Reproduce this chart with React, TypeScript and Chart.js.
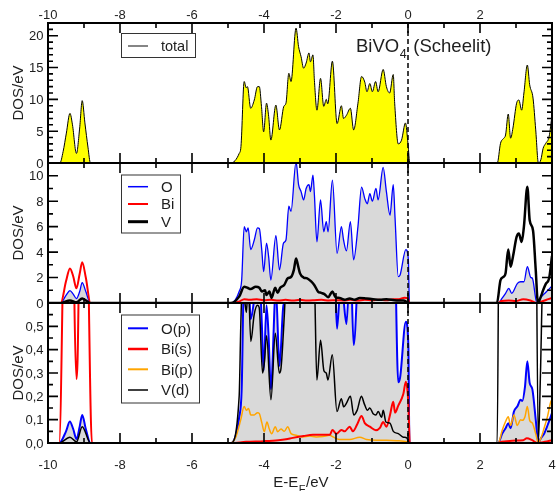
import React, { useEffect, useRef } from "react";
import { Chart, registerables } from "chart.js";

Chart.register(...registerables);

// ---------------- axis ticks ----------------
const xMajorTicks = [-10, -8, -6, -4, -2, 0, 2, 4];
const xTopLabels = ["-10", "-8", "-6", "-4", "-2", "0", "2", ""];
const xBottomLabels = ["-10", "-8", "-6", "-4", "-2", "0", "2", "4"];

const totalYTicks = [0, 5, 10, 15, 20];
const totalYLabels = ["0", "5", "10", "15", "20"];
const atomYTicks = [0, 2, 4, 6, 8, 10];
const atomYLabels = ["0", "2", "4", "6", "8", "10"];
const orbitalYTicks = [0, 0.1, 0.2, 0.3, 0.4, 0.5];
const orbitalYLabels = ["0,0", "0,1", "0,2", "0,3", "0,4", "0,5"];

// ---------------- panel 1: total DOS ----------------
const totalE = [
  -10, -9.67, -9.58, -9.49, -9.39, -9.32, -9.21, -9.12, -9.05, -8.975, -8.89, -8.82,
  -4.92, -4.69, -4.64, -4.55, -4.49, -4.46, -4.37, -4.27, -4.18, -4.13, -4.07, -4.01,
  -3.93, -3.87, -3.81, -3.67, -3.57, -3.45, -3.39, -3.31, -3.25, -3.11, -3.04, -2.97,
  -2.9, -2.83, -2.75, -2.71, -2.64, -2.6, -2.53, -2.43, -2.34, -2.27, -2.23, -2.1,
  -1.97, -1.85, -1.79, -1.71, -1.6, -1.51, -1.39, -1.29, -1.2, -1.14, -1.06, -0.99,
  -0.9, -0.83, -0.69, -0.6, -0.51, -0.41, -0.37, -0.27, -0.18, -0.07, 0.0, 0.05,
  2.48, 2.57, 2.66, 2.71, 2.785, 2.85, 2.915, 3.017, 3.08, 3.157, 3.22, 3.315, 3.38,
  3.473, 3.548, 3.622, 3.69, 3.753, 3.828, 3.92, 4.0,
];
const totalDOS = [
  0, 0, 1.8, 4.7, 7.8, 6.0, 1.5, 5.5, 9.8, 6.3, 2.5, 0,
  0, 1.5, 2.6, 12.8, 11.8, 12.0, 8.6, 9.9, 12.0, 12.0, 8.9, 4.9,
  9.4, 7.3, 3.6, 9.1, 5.2, 8.9, 9.4, 14.1, 12.8, 21.2, 18.3, 16.7,
  14.9, 15.7, 17.3, 15.9, 17.0, 13.0, 8.3, 13.3, 8.9, 10.0, 9.3, 16.0,
  6.2, 9.0, 7.0, 7.5, 8.6, 5.2, 9.4, 13.6, 12.7, 11.2, 12.5, 11.2,
  12.8, 11.2, 14.7, 12.0, 11.0, 13.9, 9.4, 3.0, 3.6, 6.3, 3.0, 0,
  0, 3.1, 3.9, 4.4, 7.7, 3.9, 5.5, 9.4, 9.9, 8.3, 11.0, 15.4, 12.3,
  10.2, 5.2, 0, 0.5, 2.3, 3.1, 4.15, 7.5,
];

// ---------------- panel 2: atoms ----------------
const oE = [
  -10, -9.65, -9.5, -9.39, -9.3, -9.21, -9.12, -9.05, -8.95, -8.82,
  -4.92, -4.69, -4.62, -4.55, -4.49, -4.44, -4.37, -4.27, -4.18, -4.13, -4.06, -4.01,
  -3.93, -3.87, -3.81, -3.67, -3.57, -3.46, -3.39, -3.31, -3.25, -3.11, -3.04, -2.97,
  -2.9, -2.83, -2.75, -2.71, -2.64, -2.6, -2.53, -2.43, -2.34, -2.27, -2.22, -2.1,
  -1.97, -1.85, -1.79, -1.71, -1.6, -1.51, -1.39, -1.29, -1.2, -1.13, -1.06, -0.99,
  -0.89, -0.83, -0.69, -0.6, -0.5, -0.41, -0.36, -0.27, -0.22, -0.06, 0.01, 0.04,
  2.5, 2.62, 2.71, 2.8, 2.88, 3.04, 3.13, 3.22, 3.316, 3.41, 3.455, 3.58, 3.69, 3.83, 4.0,
];
const oDOS = [
  0, 0, 0.6, 0.97, 0.7, 0.35, 0.9, 1.6, 0.9, 0,
  0, 0.9, 1.8, 6.0, 5.6, 5.9, 4.2, 4.95, 5.9, 5.85, 4.1, 2.46,
  4.7, 3.6, 1.8, 5.3, 2.6, 4.7, 4.95, 7.6, 7.2, 11.1, 9.3, 8.75,
  8.1, 9.0, 9.3, 8.75, 10.05, 8.5, 4.8, 8.1, 5.6, 6.4, 5.6, 9.66,
  3.9, 6.0, 4.95, 4.1, 6.4, 3.4, 6.0, 9.1, 8.2, 7.8, 8.6, 8.0,
  9.0, 8.1, 10.66, 8.75, 6.9, 9.3, 6.7, 2.07, 2.2, 4.2, 3.4, 0,
  0, 0.4, 0.76, 1.15, 0.76, 1.54, 1.67, 1.67, 2.85, 2.0, 1.95, 0, 0.45, 0.85, 1.33,
];

const biE = [
  -10, -9.645, -9.5, -9.39, -9.3, -9.21, -9.12, -9.05, -8.95, -8.82,
  -4.92, -4.7, -4.55, -4.4, -4.2, -4.0, -3.8, -3.6, -3.4, -3.2,
  -3.0, -2.8, -2.6, -2.4, -2.2, -2.0, -1.8, -1.6, -1.4, -1.2,
  -1.0, -0.8, -0.6, -0.4, -0.25, -0.1, 0.0, 0.04,
  2.48, 2.6, 2.8, 3.0, 3.2, 3.4, 3.58, 3.7, 3.9, 4.0,
];
const biDOS = [
  0, 0, 1.7, 2.72, 2.1, 1.15, 2.3, 3.2, 2.0, 0,
  0, 0.1, 0.3, 0.25, 0.3, 0.22, 0.25, 0.2, 0.25, 0.2,
  0.25, 0.2, 0.22, 0.25, 0.2, 0.22, 0.2, 0.25, 0.2, 0.25,
  0.22, 0.25, 0.22, 0.3, 0.3, 0.42, 0.35, 0,
  0, 0.15, 0.2, 0.15, 0.3, 0.2, 0, 0.1, 0.3, 0.4,
];

const vE = [
  -10, -9.65, -9.39, -9.21, -9.05, -8.82,
  -4.92, -4.69, -4.55, -4.46, -4.37, -4.23, -4.13, -4.06, -3.97, -3.93,
  -3.85, -3.79, -3.69, -3.62, -3.55, -3.44, -3.34, -3.25, -3.17, -3.11,
  -3.06, -3.0, -2.9, -2.8, -2.69, -2.6, -2.5, -2.41, -2.32, -2.22,
  -2.1, -2.01, -1.9, -1.76, -1.62, -1.48, -1.34, -1.15, -0.97, -0.78,
  -0.6, -0.32, -0.13, 0.04,
  2.47, 2.57, 2.66, 2.71, 2.785, 2.85, 2.915, 3.017, 3.08, 3.157,
  3.22, 3.315, 3.38, 3.473, 3.548, 3.61, 3.69, 3.753, 3.828, 3.92, 4.0,
];
const vDOS = [
  0, 0, 0.2, 0.05, 0.35, 0,
  0, 0.5, 1.28, 1.2, 1.1, 1.28, 1.2, 0.9, 1.0, 0.63,
  0.9, 0.4, 1.2, 0.8, 1.2, 1.41, 1.94, 2.04, 2.6, 3.5,
  3.0, 2.33, 2.0, 1.94, 1.7, 1.4, 0.9, 0.8, 0.7, 0.45,
  0.9, 0.45, 0.4, 0.25, 0.35, 0.25, 0.4, 0.35, 0.3, 0.25,
  0.3, 0.2, 0.2, 0,
  0, 1.8, 2.07, 2.33, 4.2, 2.85, 3.64, 5.2, 5.47, 4.8,
  6.0, 9.14, 6.5, 5.7, 2.6, 0, 0.5, 1.0, 1.5, 1.94, 3.7,
];

// ---------------- panel 3: orbitals ----------------
const opE = [
  -10, -9.69, -9.5, -9.394, -9.3, -9.207, -9.12, -9.05, -8.95, -8.82,
  -4.92, -4.69, -4.62, -4.55, -4.49, -4.44, -4.37, -4.27, -4.18, -4.13, -4.06, -4.01,
  -3.93, -3.87, -3.81, -3.67, -3.57, -3.46, -3.39, -3.31, -3.25, -3.11, -3.04, -2.97,
  -2.9, -2.83, -2.75, -2.71, -2.64, -2.6, -2.53, -2.43, -2.34, -2.27, -2.22, -2.1,
  -1.97, -1.85, -1.79, -1.71, -1.6, -1.51, -1.39, -1.29, -1.2, -1.13, -1.06, -0.99,
  -0.89, -0.83, -0.69, -0.6, -0.5, -0.41, -0.36, -0.27, -0.22, -0.06, 0.01, 0.04,
  2.505, 2.617, 2.71, 2.785, 2.85, 2.943, 3.036, 3.129, 3.175, 3.25,
  3.315, 3.38, 3.455, 3.548, 3.622, 3.69, 3.78, 3.874, 4.0,
];
const opDOS = [
  0, 0, 0.05, 0.092, 0.06, 0.017, 0.07, 0.12, 0.06, 0,
  0, 0.11, 0.23, 0.75, 0.7, 0.74, 0.53, 0.62, 0.74, 0.73, 0.51, 0.31,
  0.59, 0.45, 0.23, 0.66, 0.33, 0.59, 0.62, 0.95, 0.9, 1.39, 1.16, 1.09,
  1.01, 1.13, 1.16, 1.09, 1.26, 1.06, 0.65, 1.01, 0.7, 0.8, 0.7, 1.21,
  0.49, 0.75, 0.62, 0.51, 0.8, 0.42, 0.75, 1.14, 1.03, 0.98, 1.08, 1.0,
  1.13, 1.01, 1.33, 1.09, 0.86, 1.16, 0.84, 0.26, 0.28, 0.52, 0.42, 0,
  0, 0.04, 0.063, 0.085, 0.063, 0.135, 0.156, 0.185, 0.18, 0.242,
  0.35, 0.257, 0.23, 0.1, 0, 0.02, 0.04, 0.075, 0.128,
];

const bisE = [
  -10, -9.69, -9.58, -9.5, -9.39, -9.32, -9.27, -9.207, -9.15, -9.1, -9.05, -8.95, -8.88, -8.78,
  -4.92, -4.5, -4.0, -3.6, -3.39, -3.2, -2.9, -2.64, -2.36, -2.17,
  -2.1, -1.99, -1.85, -1.76, -1.62, -1.53, -1.41, -1.29, -1.2, -1.06,
  -0.89, -0.78, -0.69, -0.6, -0.5, -0.41, -0.36, -0.27, -0.13, -0.06, 0.01, 0.05,
  2.48, 2.6, 2.9, 3.2, 3.3, 3.45, 3.6, 3.8, 4.0,
];
const bisDOS = [
  0, 0, 0.8, 1.8, 2.6, 1.6, 0.65, 0.274, 0.65, 1.8, 3.0, 1.5, 0.75, 0,
  0, 0.005, 0.008, 0.012, 0.016, 0.022, 0.03, 0.035, 0.035, 0.035,
  0.056, 0.04, 0.056, 0.05, 0.07, 0.05, 0.08, 0.116, 0.085, 0.07,
  0.055, 0.065, 0.09, 0.07, 0.12, 0.177, 0.13, 0.16, 0.21, 0.263, 0.17, 0,
  0, 0.005, 0.01, 0.012, 0.02, 0.012, 0, 0.005, 0.012,
];

const bipE = [
  -10, -4.924, -4.785, -4.645, -4.552, -4.487, -4.43, -4.366, -4.273, -4.18,
  -4.133, -4.058, -3.993, -3.919, -3.853, -3.788, -3.686, -3.621, -3.528, -3.435,
  -3.342, -3.248, -3.109, -2.922, -2.736, -2.55, -2.364, -2.178, -2.085, -1.898,
  -1.619, -1.34, -1.153, -0.874, -0.595, -0.315, -0.036, 0.038,
  2.505, 2.617, 2.71, 2.785, 2.85, 2.943, 3.036, 3.129, 3.175, 3.25,
  3.315, 3.38, 3.455, 3.548, 3.622, 3.69, 3.78, 3.874, 3.967, 4.0,
];
const bipDOS = [
  0, 0, 0.025, 0.1, 0.156, 0.14, 0.148, 0.12, 0.12, 0.13,
  0.127, 0.085, 0.048, 0.09, 0.06, 0.04, 0.07, 0.048, 0.06, 0.05,
  0.07, 0.04, 0.033, 0.026, 0.03, 0.026, 0.028, 0.033, 0.026, 0.015,
  0.015, 0.025, 0.015, 0.012, 0.012, 0.01, 0.005, 0,
  0, 0.055, 0.092, 0.113, 0.075, 0.12, 0.075, 0.1, 0.097, 0.113,
  0.156, 0.097, 0.085, 0.04, 0, 0.02, 0.063, 0.113, 0.177, 0.185,
];

const vdE = [
  -10, -9.69, -9.39, -9.207, -9.05, -8.82,
  -4.924, -4.69, -4.645, -4.6, -4.524, -4.487, -4.44, -4.366, -4.273, -4.18,
  -4.133, -4.04, -3.993, -3.928, -3.807, -3.686, -3.574, -3.528, -3.435, -3.388,
  -3.2, -3.11, -2.9, -2.7, -2.6, -2.532, -2.429, -2.336, -2.271, -2.224,
  -2.103, -1.973, -1.852, -1.787, -1.712, -1.6, -1.507, -1.414, -1.293, -1.219,
  -1.126, -1.06, -0.967, -0.893, -0.827, -0.734, -0.688, -0.614, -0.502, -0.408,
  -0.269, -0.129, -0.036, 0.038,
  2.477, 2.54, 2.66, 2.785, 2.85, 3.017, 3.22, 3.315, 3.473, 3.548, 3.62, 3.68, 3.74, 3.83, 3.92, 4.0,
];
const vdDOS = [
  0, 0, 0.025, 0.005, 0.07, 0,
  0, 0.2, 0.5, 0.7, 0.593, 0.56, 0.7, 0.435, 0.55, 0.59,
  0.58, 0.3, 0.34, 0.46, 0.185, 0.47, 0.3, 0.32, 0.55, 0.7,
  1.0, 1.4, 0.9, 0.8, 0.7, 0.27, 0.44, 0.31, 0.3, 0.27,
  0.378, 0.135, 0.19, 0.155, 0.17, 0.2, 0.12, 0.14, 0.2, 0.17,
  0.14, 0.15, 0.125, 0.12, 0.135, 0.11, 0.14, 0.09, 0.085, 0.05,
  0.04, 0.025, 0.022, 0,
  0, 1.2, 1.0, 2.1, 1.4, 2.6, 3.0, 4.5, 2.8, 1.3, 0, 0.3, 0.7, 0.8, 1.0, 1.9,
];

// ---------------- layout / styling ----------------
const W = 556;
const H = 491;
const X_MIN = -10;
const X_MAX = 4;
const FONT = '"Liberation Sans", Arial, Helvetica, sans-serif';
const TEXT = "#1e1e1e";

type Series = {
  name: string;
  e: number[];
  v: number[];
  color: string;
  width: number;
  legendWidth: number;
  fill?: string;
  order: number;
};
type Panel = {
  top: number;
  bottom: number;
  yMax: number;
  yTicks: number[];
  yLabels: string[];
  minorStep: number;
  series: Series[];
  legend: { x: number; y: number; w: number; h: number; rows: number[]; font: number };
  topLabels?: boolean;
  bottomLabels?: boolean;
  title?: boolean;
};

const panels: Panel[] = [
  {
    top: 23,
    bottom: 163,
    yMax: 22,
    yTicks: totalYTicks,
    yLabels: totalYLabels,
    minorStep: 1,
    series: [
      { name: "total", e: totalE, v: totalDOS, color: "#000000", width: 1, legendWidth: 1.2, fill: "#ffff00", order: 1 },
    ],
    legend: { x: 121, y: 33, w: 74, h: 24, rows: [46], font: 14.5 },
    topLabels: true,
    title: true,
  },
  {
    top: 163,
    bottom: 303,
    yMax: 11,
    yTicks: atomYTicks,
    yLabels: atomYLabels,
    minorStep: 1,
    series: [
      { name: "O", e: oE, v: oDOS, color: "#0000ff", width: 1.3, legendWidth: 1.5, fill: "#d9d9d9", order: 3 },
      { name: "Bi", e: biE, v: biDOS, color: "#ff0000", width: 2, legendWidth: 2, order: 2 },
      { name: "V", e: vE, v: vDOS, color: "#000000", width: 2.5, legendWidth: 3, order: 1 },
    ],
    legend: { x: 121, y: 174.5, w: 59, h: 58, rows: [186.7, 204, 221.7], font: 15 },
  },
  {
    top: 303,
    bottom: 443,
    yMax: 0.6,
    yTicks: orbitalYTicks,
    yLabels: orbitalYLabels,
    minorStep: 0.05,
    series: [
      { name: "O(p)", e: opE, v: opDOS, color: "#0000ff", width: 2, legendWidth: 2, fill: "#d9d9d9", order: 4 },
      { name: "Bi(s)", e: bisE, v: bisDOS, color: "#ff0000", width: 2, legendWidth: 2.5, order: 2 },
      { name: "Bi(p)", e: bipE, v: bipDOS, color: "#ffa500", width: 1.5, legendWidth: 2, order: 3 },
      { name: "V(d)", e: vdE, v: vdDOS, color: "#000000", width: 1.5, legendWidth: 1.5, order: 1 },
    ],
    legend: { x: 121, y: 314.5, w: 78, h: 88, rows: [328.3, 349, 369.3, 390], font: 15 },
    bottomLabels: true,
  },
];

const toPoints = (xs: number[], ys: number[]) => xs.map((x, i) => ({ x, y: ys[i] }));

function decorPlugin(p: Panel) {
  return {
    id: "dosDecor",
    afterDatasetsDraw(chart: any) {
      const { ctx, chartArea: a } = chart;
      const x0 = chart.scales.x.getPixelForValue(0);
      ctx.save();
      ctx.strokeStyle = "#000";
      ctx.lineWidth = 1.5;
      ctx.setLineDash([5, 3]);
      ctx.beginPath();
      ctx.moveTo(x0, a.top);
      ctx.lineTo(x0, a.bottom);
      ctx.stroke();
      ctx.restore();
    },
    afterDraw(chart: any) {
      const { ctx, chartArea: a } = chart;
      const xs = chart.scales.x;
      const ys = chart.scales.y;
      ctx.save();
      ctx.setLineDash([]);

      // ticks (inward, all four sides)
      ctx.strokeStyle = "#000";
      ctx.lineWidth = 1.6;
      ctx.beginPath();
      for (let v = X_MIN; v <= X_MAX; v++) {
        const major = xMajorTicks.includes(v);
        const len = major ? 10 : 5;
        const px = xs.getPixelForValue(v);
        ctx.moveTo(px, a.top);
        ctx.lineTo(px, a.top + len);
        ctx.moveTo(px, a.bottom);
        ctx.lineTo(px, a.bottom - len);
      }
      const n = Math.round(p.yMax / p.minorStep);
      for (let i = 1; i < n; i++) {
        const v = i * p.minorStep;
        const major = p.yTicks.some((t) => Math.abs(t - v) < 1e-9);
        const len = major ? 10 : 5;
        const py = ys.getPixelForValue(v);
        ctx.moveTo(a.left, py);
        ctx.lineTo(a.left + len, py);
        ctx.moveTo(a.right, py);
        ctx.lineTo(a.right - len, py);
      }
      ctx.stroke();

      // frame
      ctx.lineWidth = 2;
      ctx.strokeRect(a.left, a.top, a.right - a.left, a.bottom - a.top);

      // y tick labels
      ctx.fillStyle = TEXT;
      ctx.font = `13px ${FONT}`;
      ctx.textAlign = "right";
      ctx.textBaseline = "alphabetic";
      p.yTicks.forEach((t, i) => {
        ctx.fillText(p.yLabels[i], 43.5, ys.getPixelForValue(t) + 4.7);
      });

      // x tick labels
      ctx.textAlign = "center";
      if (p.topLabels) {
        xMajorTicks.forEach((t, i) => {
          if (xTopLabels[i]) ctx.fillText(xTopLabels[i], xs.getPixelForValue(t), 18.5);
        });
      }
      if (p.bottomLabels) {
        xMajorTicks.forEach((t, i) => {
          if (xBottomLabels[i]) ctx.fillText(xBottomLabels[i], xs.getPixelForValue(t), 468.5);
        });
      }

      // y title
      ctx.save();
      ctx.translate(22.5, (a.top + a.bottom) / 2);
      ctx.rotate(-Math.PI / 2);
      ctx.font = `15px ${FONT}`;
      ctx.textAlign = "center";
      ctx.fillText("DOS/eV", 0, 0);
      ctx.restore();

      // legend
      const L = p.legend;
      ctx.fillStyle = "#ffffff";
      ctx.fillRect(L.x, L.y, L.w, L.h);
      ctx.strokeStyle = "#333";
      ctx.lineWidth = 1;
      ctx.strokeRect(L.x + 0.5, L.y + 0.5, L.w, L.h);
      p.series.forEach((s, i) => {
        const y = L.rows[i];
        ctx.strokeStyle = s.color === "#000000" && p.series.length === 1 ? "#333" : s.color;
        ctx.lineWidth = s.legendWidth;
        ctx.beginPath();
        ctx.moveTo(128, y);
        ctx.lineTo(148, y);
        ctx.stroke();
        ctx.fillStyle = TEXT;
        ctx.font = `${L.font}px ${FONT}`;
        ctx.textAlign = "left";
        ctx.fillText(s.name, 161, y + L.font * 0.36);
      });

      // title
      if (p.title) {
        ctx.fillStyle = TEXT;
        ctx.textAlign = "left";
        ctx.font = `18.5px ${FONT}`;
        ctx.fillText("BiVO", 356, 51.7);
        const w = ctx.measureText("BiVO").width;
        ctx.font = `12.5px ${FONT}`;
        ctx.fillText("4", 356 + w + 0.5, 57.5);
        ctx.font = `18.5px ${FONT}`;
        ctx.fillText("(Scheelit)", 413.3, 51.7);
      }

      // x title
      if (p.bottomLabels) {
        ctx.fillStyle = TEXT;
        ctx.textAlign = "left";
        let x = 273.3;
        ctx.font = `15px ${FONT}`;
        ctx.fillText("E-E", x, 487.3);
        x += ctx.measureText("E-E").width;
        ctx.font = `11px ${FONT}`;
        ctx.fillText("F", x + 0.5, 493);
        x += ctx.measureText("F").width + 1;
        ctx.font = `15px ${FONT}`;
        ctx.fillText("/eV", x, 487.3);
      }
      ctx.restore();
    },
  };
}

function makeConfig(p: Panel): any {
  return {
    type: "line",
    data: {
      datasets: p.series.map((s) => ({
        label: s.name,
        data: toPoints(s.e, s.v),
        borderColor: s.color,
        borderWidth: s.width,
        backgroundColor: s.fill || "transparent",
        fill: s.fill ? "origin" : false,
        pointRadius: 0,
        pointHoverRadius: 0,
        cubicInterpolationMode: "monotone",
        borderJoinStyle: "round",
        order: s.order,
      })),
    },
    options: {
      responsive: false,
      maintainAspectRatio: false,
      devicePixelRatio: 1,
      animation: false,
      events: [],
      layout: { padding: { left: 48, right: 4, top: p.top, bottom: H - p.bottom } },
      scales: {
        x: { type: "linear", min: X_MIN, max: X_MAX, display: false },
        y: { type: "linear", min: 0, max: p.yMax, display: false },
      },
      plugins: { legend: { display: false }, tooltip: { enabled: false }, title: { display: false } },
    },
    plugins: [decorPlugin(p)],
  };
}

function PanelCanvas({ panel }: { panel: Panel }) {
  const ref = useRef<HTMLCanvasElement | null>(null);
  useEffect(() => {
    if (!ref.current) return;
    const chart = new Chart(ref.current, makeConfig(panel));
    return () => chart.destroy();
  }, [panel]);
  return (
    <canvas
      ref={ref}
      width={W}
      height={H}
      style={{ position: "absolute", left: 0, top: 0, width: W, height: H }}
    />
  );
}

export default function App() {
  useEffect(() => {
    document.body.style.margin = "0";
  }, []);
  return (
    <div style={{ position: "absolute", left: 0, top: 0, width: W, height: H, background: "#ffffff", overflow: "hidden" }}>
      {panels.map((p, i) => (
        <PanelCanvas key={i} panel={p} />
      ))}
    </div>
  );
}
